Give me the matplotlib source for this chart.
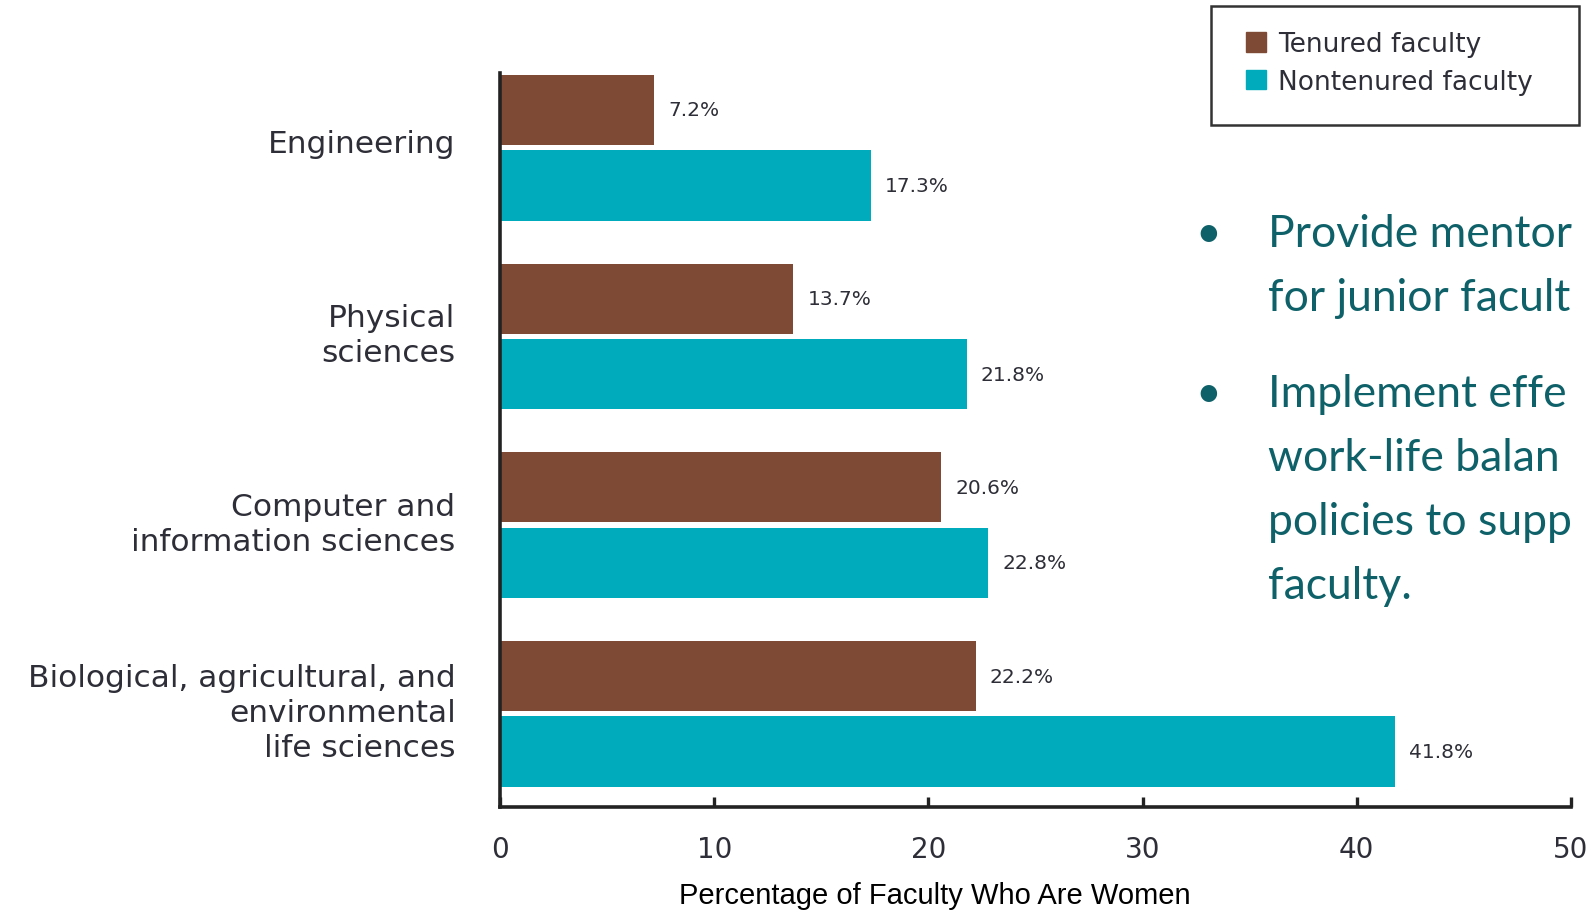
import numpy as np
import matplotlib
matplotlib.use('Agg')
import matplotlib.pyplot as plt
from matplotlib.patches import Patch, Rectangle

fields = ['Engineering',
          'Physical\nsciences',
          'Computer and\ninformation sciences',
          'Biological, agricultural, and\nenvironmental\nlife sciences']
tenured = [7.2, 13.7, 20.6, 22.2]
nontenured = [17.3, 21.8, 22.8, 41.8]
series_names = ['Tenured faculty', 'Nontenured faculty']
x_ticks = [0, 10, 20, 30, 40, 50]
x_label = 'Percentage of Faculty Who Are Women'
# the slide text runs off the right edge in the original; keep the visible part
bullets = [['Provide mentor', 'for junior facult'],
           ['Implement effe', 'work-life balan', 'policies to supp', 'faculty.']]

BROWN = '#7f4a35'
TEAL = '#00acbc'
TEXT = '#2e2e38'
BULLET = '#0f6169'

fig = plt.figure(figsize=(15.91, 9.12), dpi=100)
ax = fig.add_axes([0.3143, 0.114, 0.6731, 0.8049])

y = np.arange(len(fields))
h = 0.372
b1 = ax.barh(y - 0.2, tenured, height=h, color=BROWN)
b2 = ax.barh(y + 0.2, nontenured, height=h, color=TEAL)
for bars in (b1, b2):
    ax.bar_label(bars, labels=[f'{v:.1f}%' for v in bars.datavalues],
                 padding=10, fontsize=14.5, color=TEXT)

ax.set_xlim(0, 50)
ax.set_ylim(3.494, -0.396)
ax.set_xticks(x_ticks)
# labels sit a little above the middle of each pair
ax.set_yticks(y - 0.04, fields)
for lab in ax.get_yticklabels():
    lab.set_linespacing(1.27)
for s in ['top', 'right']:
    ax.spines[s].set_visible(False)
for s in ['left', 'bottom']:
    ax.spines[s].set_linewidth(2.6)
    ax.spines[s].set_color('#222222')
ax.tick_params(axis='x', direction='in', length=7, width=2.4, color='#222222',
               pad=20, labelsize=20, labelcolor=TEXT)
ax.tick_params(axis='y', length=0, pad=32, labelsize=22.5, labelcolor=TEXT)

fig.text(935 / 1591, 1 - 896 / 912, x_label, ha='center', va='center', fontsize=21,
         family='Liberation Sans', color='black')

# legend box drawn by hand so its size matches the original
fig.patches.append(Rectangle((1211 / 1591, 1 - 126 / 912), 368 / 1591, 119 / 912,
                             transform=fig.transFigure, fill=False,
                             edgecolor='#333333', linewidth=1.8))
handles = [Patch(color=BROWN), Patch(color=TEAL)]
fig.legend(handles, series_names, loc='upper left',
           bbox_to_anchor=(1246 / 1591, 1 - 32 / 912), borderaxespad=0,
           fontsize=19, frameon=False, borderpad=0,
           handlelength=0.76, handleheight=0.76, handletextpad=0.45,
           labelspacing=0.45, labelcolor=TEXT)

base = 247
for lines in bullets:
    fig.text(1208 / 1591, 1 - base / 912, '\u2022', ha='center', va='baseline',
             fontsize=32, family='Lato', color=BULLET)
    for i, line in enumerate(lines):
        fig.text(1268 / 1591, 1 - (base + 64 * i) / 912, line, ha='left', va='baseline',
                 fontsize=32, family='Lato', color=BULLET)
    base += 64 * (len(lines) - 1) + 96

fig.savefig('out.png', dpi=100)
